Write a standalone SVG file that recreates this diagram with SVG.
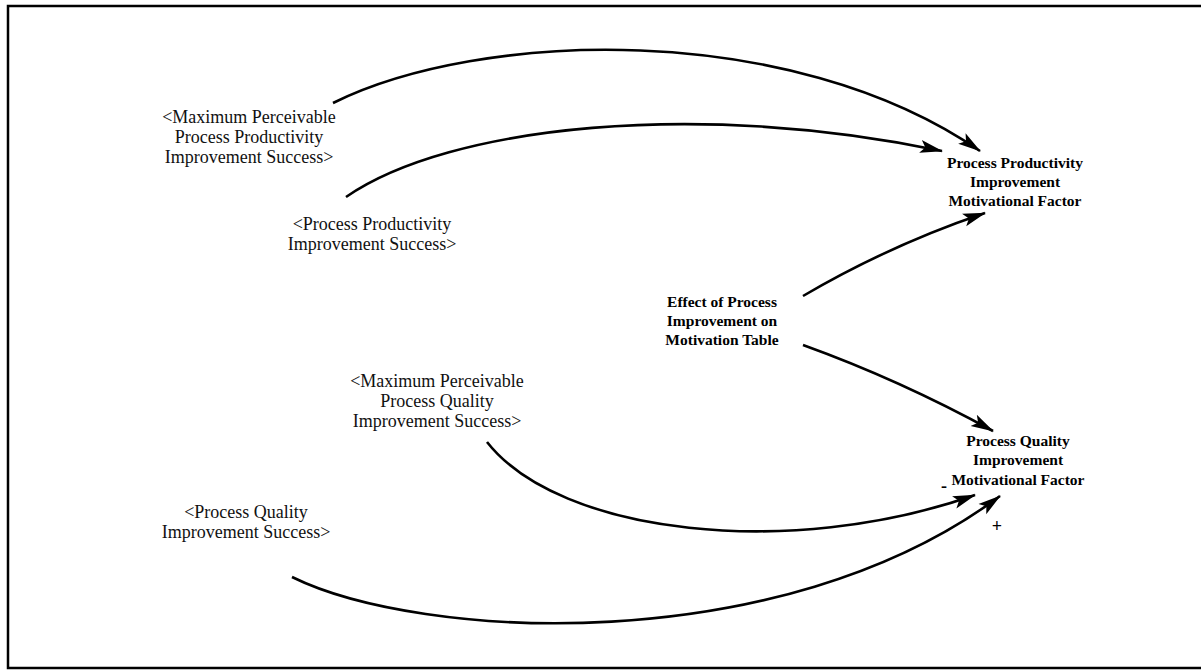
<svg xmlns="http://www.w3.org/2000/svg" width="1201" height="670" viewBox="0 0 1201 670">
  <style>
    .var { font-family: "Liberation Serif", "Times New Roman", serif; font-size: 18px; fill: #111; text-anchor: middle; }
    .aux { font-family: "Liberation Serif", "Times New Roman", serif; font-size: 15.5px; font-weight: bold; fill: #000; text-anchor: middle; }
    .link { fill: none; stroke: #000; stroke-width: 2.6; marker-end: url(#head); }
    .sign { font-family: "Liberation Serif", "Times New Roman", serif; font-size: 18px; font-weight: bold; fill: #000; text-anchor: middle; }
  </style>
  <defs>
    <marker id="head" markerUnits="userSpaceOnUse" markerWidth="26" markerHeight="16" refX="22" refY="8" orient="auto">
      <path d="M0,1.5 L23,8 L0,14.5 L5,8 z" fill="#000"/>
    </marker>
  </defs>

  <rect width="1201" height="670" fill="#fff"/>

  <!-- frame -->
  <path d="M1201,6 L8,6 L8,668 L1201,668" fill="none" stroke="#000" stroke-width="2.5"/>

  <!-- connectors -->
  <g id="links">
    <path class="link" d="M333,103 C480,30 790,20 980,151"/>
    <path class="link" d="M346,197 C450,125 700,100 942,151"/>
    <path class="link" d="M803,296 Q890,245 985,213"/>
    <path class="link" d="M803,345 Q900,380 993,431"/>
    <path class="link" d="M487,442 C560,535 790,560 975,495"/>
    <path class="link" d="M292,577 C420,640 780,660 1000,496"/>
  </g>

  <!-- polarity signs -->
  <text class="sign" x="944" y="492">-</text>
  <text class="sign" x="997" y="532">+</text>

  <g id="max-productivity-success">
    <text class="var" x="249" y="123">&lt;Maximum Perceivable</text>
    <text class="var" x="249" y="143">Process Productivity</text>
    <text class="var" x="249" y="163">Improvement Success&gt;</text>
  </g>

  <g id="productivity-success">
    <text class="var" x="372" y="230">&lt;Process Productivity</text>
    <text class="var" x="372" y="250">Improvement Success&gt;</text>
  </g>

  <g id="productivity-motivation">
    <text class="aux" x="1015" y="168">Process Productivity</text>
    <text class="aux" x="1015" y="187">Improvement</text>
    <text class="aux" x="1015" y="206">Motivational Factor</text>
  </g>

  <g id="motivation-table">
    <text class="aux" x="722" y="307">Effect of Process</text>
    <text class="aux" x="722" y="326">Improvement on</text>
    <text class="aux" x="722" y="345">Motivation Table</text>
  </g>

  <g id="max-quality-success">
    <text class="var" x="437" y="387">&lt;Maximum Perceivable</text>
    <text class="var" x="437" y="407">Process Quality</text>
    <text class="var" x="437" y="427">Improvement Success&gt;</text>
  </g>

  <g id="quality-motivation">
    <text class="aux" x="1018" y="446">Process Quality</text>
    <text class="aux" x="1018" y="465">Improvement</text>
    <text class="aux" x="1018" y="485">Motivational Factor</text>
  </g>

  <g id="quality-success">
    <text class="var" x="246" y="518">&lt;Process Quality</text>
    <text class="var" x="246" y="538">Improvement Success&gt;</text>
  </g>
</svg>
